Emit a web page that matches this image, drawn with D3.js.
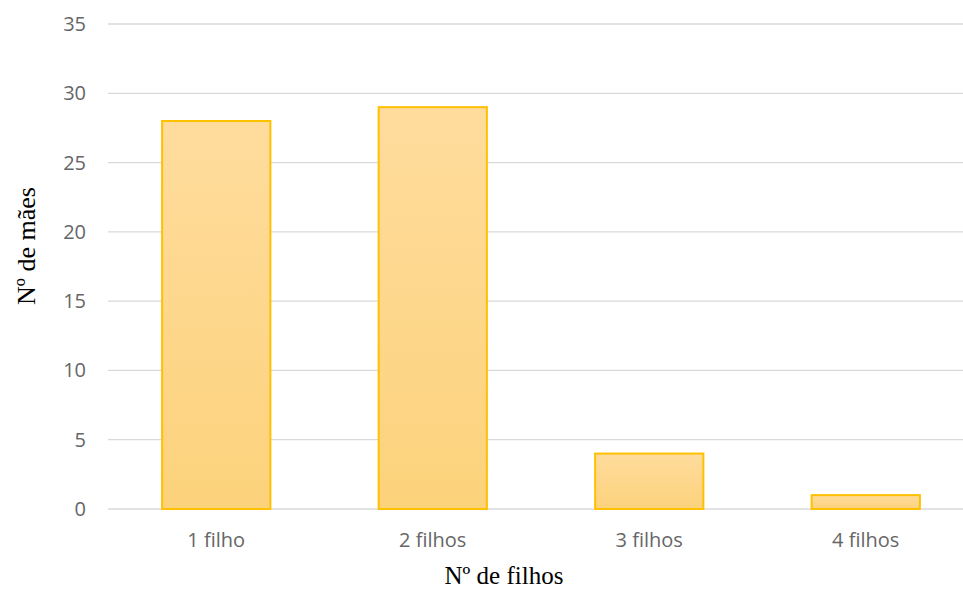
<!DOCTYPE html>
<html><head><meta charset="utf-8">
<script src="https://cdn.jsdelivr.net/npm/d3@7"></script>
<style>body{margin:0;background:#fff}svg{display:block}</style>
</head><body>
<svg id="c" width="963" height="590"></svg>
<script>
const categories = ["1 filho", "2 filhos", "3 filhos", "4 filhos"];
const values = [28, 29, 4, 1];
const yTicks = [0, 5, 10, 15, 20, 25, 30, 35];
const xTitle = "Nº de filhos";
const yTitle = "Nº de mães";

(function () {
const svg = d3.select("#c");
const W = 963, H = 590;
const pLeft = 108, pRight = 974, pTop = 24, pBottom = 509;

const x = d3.scaleBand().domain(categories).range([pLeft, pRight]).paddingInner(0.5).paddingOuter(0.25);
const y = d3.scaleLinear().domain([0, 35]).range([pBottom, pTop]);

const defs = svg.append("defs");
const g = defs.append("linearGradient").attr("id", "bg").attr("x1", 0).attr("y1", 0).attr("x2", 0).attr("y2", 1);
g.append("stop").attr("offset", "0%").attr("stop-color", "#FFDC9D");
g.append("stop").attr("offset", "100%").attr("stop-color", "#FCD27B");

// gridlines
svg.append("g").selectAll("line").data(yTicks).join("line")
  .attr("x1", pLeft).attr("x2", W)
  .attr("y1", d => y(d)).attr("y2", d => y(d))
  .attr("stroke", "#D9D9D9").attr("stroke-width", 1.3);

// bars
svg.append("g").selectAll("rect").data(values).join("rect")
  .attr("x", (d, i) => x(categories[i]))
  .attr("y", d => y(d))
  .attr("width", x.bandwidth())
  .attr("height", d => y(0) - y(d))
  .attr("fill", "url(#bg)")
  .attr("stroke", "#FFC000").attr("stroke-width", 2);

// y tick labels
svg.append("g").selectAll("text").data(yTicks).join("text")
  .attr("x", 86).attr("y", d => y(d)).attr("dy", "0.35em")
  .attr("text-anchor", "end")
  .attr("font-family", "'Open Sans', sans-serif").attr("font-size", 20)
  .attr("fill", "#666666").text(d => d);

// x tick labels
svg.append("g").selectAll("text").data(categories).join("text")
  .attr("x", d => x(d) + x.bandwidth() / 2).attr("y", 547)
  .attr("text-anchor", "middle")
  .attr("font-family", "'Open Sans', sans-serif").attr("font-size", 20)
  .attr("fill", "#666666").text(d => d);

// axis titles
svg.append("text").attr("x", 504).attr("y", 584).attr("text-anchor", "middle")
  .attr("font-family", "'Liberation Serif', 'Times New Roman', serif").attr("font-size", 25)
  .attr("fill", "#000").text(xTitle);
svg.append("text").attr("transform", "translate(35,246) rotate(-90)").attr("text-anchor", "middle")
  .attr("font-family", "'Liberation Serif', 'Times New Roman', serif").attr("font-size", 26)
  .attr("fill", "#000").text(yTitle);
})();
</script>
</body></html>
